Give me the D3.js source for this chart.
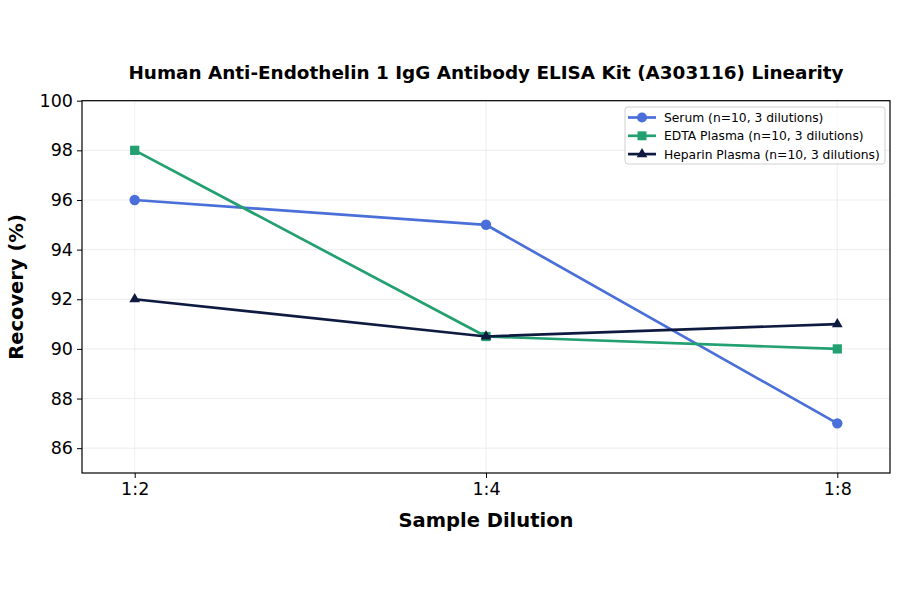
<!DOCTYPE html>
<html><head><meta charset="utf-8">
<script src="https://cdn.jsdelivr.net/npm/d3@7/dist/d3.min.js"></script>
<style>body{margin:0;background:#fff;} text{font-family:"DejaVu Sans",sans-serif;}</style>
</head><body>
<svg id="c" width="900" height="594"></svg>
<script>
const categories = ["1:2", "1:4", "1:8"];
const serum = [96, 95, 87];
const edta = [98, 90.5, 90];
const heparin = [92, 90.5, 91];
const yTicks = [86, 88, 90, 92, 94, 96, 98, 100];
const seriesNames = ["Serum (n=10, 3 dilutions)", "EDTA Plasma (n=10, 3 dilutions)", "Heparin Plasma (n=10, 3 dilutions)"];
const title = "Human Anti-Endothelin 1 IgG Antibody ELISA Kit (A303116) Linearity";

const series = [
  {name: seriesNames[0], values: serum, color: "#4a6fd8", shape: d3.symbolCircle},
  {name: seriesNames[1], values: edta, color: "#23a070", shape: d3.symbolSquare},
  {name: seriesNames[2], values: heparin, color: "#0f1a40", shape: d3.symbolTriangle}
];

const svg = d3.select("#c");
const L = 82, R = 890, T = 100.7, B = 473;
const x = d3.scalePoint().domain(categories).range([L, R]).padding(0.15);
const y = d3.scaleLinear().domain([85, 100]).range([B, T]);

// grid
const g = svg.append("g");
g.selectAll(".gy").data(yTicks).enter().append("line")
  .attr("x1", L).attr("x2", R).attr("y1", d => y(d)).attr("y2", d => y(d))
  .attr("stroke", "#e8e8e8").attr("stroke-width", 0.8);
g.selectAll(".gx").data(categories).enter().append("line")
  .attr("y1", T).attr("y2", B).attr("x1", d => x(d)).attr("x2", d => x(d))
  .attr("stroke", "#e8e8e8").attr("stroke-width", 0.8);

// axes
const ya = svg.append("g").attr("transform", `translate(${L},0)`)
  .call(d3.axisLeft(y).tickValues(yTicks).tickSize(5).tickPadding(4));
const xa = svg.append("g").attr("transform", `translate(0,${B})`)
  .call(d3.axisBottom(x).tickSize(5).tickPadding(5));
[ya, xa].forEach(a => {
  a.select(".domain").remove();
  a.selectAll("text").attr("font-size", 17.5).attr("fill", "#000").style("font-family", "DejaVu Sans");
  a.selectAll("line").attr("stroke", "#000").attr("stroke-width", 1);
});
svg.append("rect").attr("x", L).attr("y", T).attr("width", R - L).attr("height", B - T)
  .attr("fill", "none").attr("stroke", "#000").attr("stroke-width", 1.2);

// lines
const line = d3.line().x((d, i) => x(categories[i])).y(d => y(d));
series.forEach(s => {
  svg.append("path").datum(s.values).attr("d", line).attr("fill", "none")
    .attr("stroke", s.color).attr("stroke-width", 2.7).attr("stroke-linejoin", "round");
  svg.selectAll(null).data(s.values).enter().append("path")
    .attr("d", d3.symbol().type(s.shape).size(s.shape === d3.symbolTriangle ? 50 : 85))
    .attr("transform", (d, i) => `translate(${x(categories[i])},${y(d)})`)
    .attr("fill", s.color);
});

// title and labels
svg.append("text").attr("x", 486).attr("y", 79).attr("text-anchor", "middle")
  .attr("font-size", 18.4).attr("font-weight", "bold").text(title);
svg.append("text").attr("x", 486).attr("y", 527).attr("text-anchor", "middle")
  .attr("font-size", 19.5).attr("font-weight", "bold").text("Sample Dilution");
svg.append("text").attr("transform", "translate(23,287) rotate(-90)").attr("text-anchor", "middle")
  .attr("font-size", 19.5).attr("font-weight", "bold").text("Recovery (%)");

// legend
const lg = svg.append("g");
lg.append("rect").attr("x", 625).attr("y", 107).attr("width", 260).attr("height", 57)
  .attr("rx", 3).attr("fill", "#fff").attr("fill-opacity", 0.8).attr("stroke", "#d0d0d0").attr("stroke-width", 1);
series.forEach((s, i) => {
  const yy = 117.5 + i * 18.3;
  lg.append("line").attr("x1", 628).attr("x2", 656).attr("y1", yy).attr("y2", yy)
    .attr("stroke", s.color).attr("stroke-width", 2.7);
  lg.append("path").attr("d", d3.symbol().type(s.shape).size(s.shape === d3.symbolTriangle ? 50 : 80))
    .attr("transform", `translate(642,${yy})`).attr("fill", s.color);
  lg.append("text").attr("x", 664).attr("y", yy + 4.5).attr("font-size", 12.3).text(s.name);
});
</script>
</body></html>
